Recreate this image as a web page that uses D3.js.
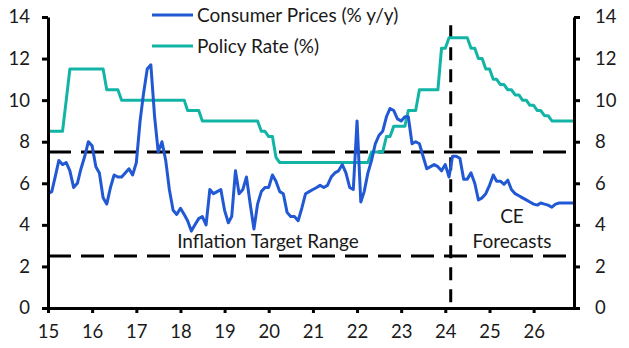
<!DOCTYPE html>
<html>
<head>
<meta charset="utf-8">
<style>
  body { margin: 0; background: #fff; font-family: Lato, "Open Sans", sans-serif; }
  .axis .domain { stroke: #000; stroke-width: 3; }
  .axis .tick line { stroke: #000; stroke-width: 3; }
  .axis .tick text { fill: #1a1a1a; font-size: 18.5px; font-family: Lato, sans-serif; }
  .ref { fill: none; stroke: #000; stroke-width: 3; }
  .label { fill: #1a1a1a; font-size: 19px; font-family: Lato, sans-serif; }
</style>
<script src="https://d3js.org/d3.v7.min.js"></script>
</head>
<body>
<div id="chart"></div>
<script>
// monthly, Jan 2015 .. Dec 2026
var startMonth = new Date(2015, 0, 1),
    endMonth = new Date(2026, 11, 1);

var cpi = [
  5.5, 5.6, 6.3, 7.1, 6.9, 7.0, 6.6, 5.8, 6.0, 6.7, 7.3, 8.0,   // 2015
  7.8, 6.8, 6.5, 5.3, 5.0, 5.8, 6.4, 6.3, 6.3, 6.5, 6.7, 6.4,   // 2016
  7.0, 9.0, 10.3, 11.5, 11.7, 9.2, 7.5, 8.0, 7.1, 5.7, 4.7, 4.5, // 2017
  4.8, 4.5, 4.2, 3.7, 4.0, 4.3, 4.4, 4.0, 5.7, 5.5, 5.6, 5.7,   // 2018
  4.7, 4.1, 4.4, 6.6, 5.5, 5.7, 6.3, 5.0, 3.8, 5.0, 5.6, 5.8,   // 2019
  5.8, 6.4, 6.1, 5.6, 5.5, 4.6, 4.4, 4.4, 4.2, 4.8, 5.5, 5.6,   // 2020
  5.7, 5.8, 5.9, 5.8, 5.9, 6.3, 6.5, 6.6, 6.9, 6.5, 5.8, 5.7,   // 2021
  9.0, 5.1, 5.6, 6.5, 7.1, 7.9, 8.3, 8.5, 9.2, 9.6, 9.5, 9.1,   // 2022
  9.0, 9.2, 9.2, 7.9, 8.0, 7.9, 7.3, 6.7, 6.8, 6.9, 6.8, 6.6,   // 2023
  6.9, 6.3, 7.3, 7.3, 7.2, 6.2, 6.2, 6.5, 6.0, 5.2, 5.3, 5.5,   // 2024
  5.9, 6.4, 6.1, 6.1, 5.95, 6.15, 5.7, 5.5, 5.4, 5.3, 5.2, 5.1, // 2025
  5.0, 4.95, 5.05, 5.0, 4.95, 4.85, 5.0, 5.05, 5.05, 5.05, 5.05, 5.05 // 2026
];

var policy = [
  8.5, 8.5, 8.5, 8.5, 8.5, 10, 11.5, 11.5, 11.5, 11.5, 11.5, 11.5,
  11.5, 11.5, 11.5, 11.5, 10.5, 10.5, 10.5, 10.5, 10, 10, 10, 10,
  10, 10, 10, 10, 10, 10, 10, 10, 10, 10, 10, 10,
  10, 10, 9.5, 9.5, 9.5, 9.5, 9, 9, 9, 9, 9, 9,
  9, 9, 9, 9, 9, 9, 9, 9, 9, 9, 8.5, 8.5,
  8.25, 8.25, 7.25, 7, 7, 7, 7, 7, 7, 7, 7, 7,
  7, 7, 7, 7, 7, 7, 7, 7, 7, 7, 7, 7,
  7, 7, 7, 7, 7.5, 7.5, 7.5, 7.5, 8.25, 8.25, 8.75, 8.75,
  8.75, 8.75, 9.5, 9.5, 9.5, 10.5, 10.5, 10.5, 10.5, 10.5, 10.5, 12.5,
  12.5, 13, 13, 13, 13, 13, 13, 12.5, 12.5, 12, 12, 11.5,
  11.5, 11, 11, 10.75, 10.75, 10.5, 10.5, 10.25, 10.25, 10, 10, 9.75,
  9.75, 9.5, 9.5, 9.25, 9.25, 9, 9, 9, 9, 9, 9, 9
];

var yTicks = [0, 2, 4, 6, 8, 10, 12, 14];
var targetBand = [2.5, 7.5];
var forecastStart = new Date(2024, 1, 15);
var seriesNames = ["Consumer Prices (% y/y)", "Policy Rate (%)"];
var seriesColors = ["#2158d3", "#12b5a5"];

var margin = {top: 17, right: 55, bottom: 40, left: 48},
    width = 629 - margin.left - margin.right,
    height = 348 - margin.top - margin.bottom;

var months = d3.timeMonth.range(startMonth, d3.timeMonth.offset(endMonth, 1));

var x = d3.scaleTime().domain([startMonth, endMonth]).range([0, width]);
var y = d3.scaleLinear().domain([0, 14]).range([height, 0]);

var svg = d3.select("#chart").append("svg")
    .attr("width", width + margin.left + margin.right)
    .attr("height", height + margin.top + margin.bottom)
  .append("g")
    .attr("transform", "translate(" + margin.left + "," + margin.top + ")");

// inflation target band lines
svg.selectAll(".band")
    .data(targetBand)
  .enter().append("line")
    .attr("class", "ref")
    .attr("x1", 0).attr("x2", width)
    .attr("y1", function(d) { return y(d); })
    .attr("y2", function(d) { return y(d); })
    .attr("stroke-dasharray", "23,10");

// forecast divider
svg.append("line")
    .attr("class", "ref")
    .attr("x1", x(forecastStart)).attr("x2", x(forecastStart))
    .attr("y1", y(13.6)).attr("y2", y(0))
    .attr("stroke-dasharray", "13,9");

var line = d3.line()
    .x(function(d) { return x(d[0]); })
    .y(function(d) { return y(d[1]); });

[policy, cpi].forEach(function(vals, i) {
  var col = i === 0 ? seriesColors[1] : seriesColors[0];
  svg.append("path")
      .datum(months.map(function(m, j) { return [m, vals[j]]; }))
      .attr("fill", "none")
      .attr("stroke", col)
      .attr("stroke-width", 3)
      .attr("stroke-linejoin", "round")
      .attr("d", line);
});

// axes
svg.append("g")
    .attr("class", "axis")
    .call(d3.axisLeft(y).tickValues(yTicks).tickSize(6).tickSizeOuter(0).tickPadding(12));

svg.append("g")
    .attr("class", "axis")
    .attr("transform", "translate(" + width + ",0)")
    .call(d3.axisRight(y).tickValues(yTicks).tickSize(6).tickSizeOuter(0).tickPadding(15));

svg.append("g")
    .attr("class", "axis")
    .attr("transform", "translate(0," + height + ")")
    .call(d3.axisBottom(x)
      .ticks(d3.timeYear.every(1))
      .tickFormat(d3.timeFormat("%y"))
      .tickSize(5).tickSizeOuter(0).tickPadding(12));

// legend
var legend = svg.selectAll(".legend")
    .data(seriesNames)
  .enter().append("g")
    .attr("transform", function(d, i) { return "translate(104," + (i * 31 - 2) + ")"; });

legend.append("line")
    .attr("x1", 0).attr("x2", 41)
    .attr("stroke", function(d, i) { return seriesColors[i]; })
    .attr("stroke-width", 3);

legend.append("text")
    .attr("class", "label")
    .attr("x", 45)
    .attr("dy", "0.35em")
    .text(function(d) { return d; });

// annotations
svg.append("text")
    .attr("class", "label")
    .attr("x", 220).attr("y", 231)
    .attr("text-anchor", "middle")
    .text("Inflation Target Range");

svg.append("text")
    .attr("class", "label")
    .attr("text-anchor", "middle")
    .selectAll("tspan")
    .data(["CE", "Forecasts"])
  .enter().append("tspan")
    .attr("x", 464)
    .attr("y", function(d, i) { return 206 + i * 24.5; })
    .text(function(d) { return d; });
</script>
</body>
</html>
